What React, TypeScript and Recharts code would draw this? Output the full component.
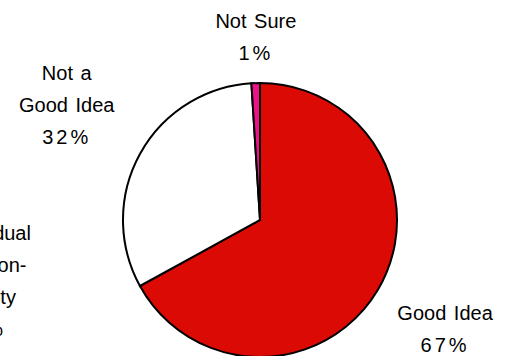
import React from "react";
import { PieChart, Pie, Cell } from "recharts";

const categories = ["Good Idea", "Individual\nRespon-\nsibility", "Not a\nGood Idea", "Not Sure"];
const shares = [67, 0, 32, 1];
const sliceColors = ["#DC0A05", "#DC0A05", "#FFFFFF", "#EE1289"];

// where each label block sits, relative to the slice's mid angle
const labelRadius = [215, 278, 225, 183];
const labelAngleShift = [0, -16.2, -2, -0.5];

const pieData = categories.map((name, i) => ({ name, value: shares[i] }));

const RAD = Math.PI / 180;
const LINE_H = 32;

function renderLabel(props: any) {
  const { cx, cy, midAngle, index } = props;
  const ang = (midAngle + labelAngleShift[index]) * RAD;
  const x = cx + labelRadius[index] * Math.cos(ang);
  const y = cy - labelRadius[index] * Math.sin(ang);
  const lines = [...categories[index].split("\n"), `${shares[index]}%`];
  const top = y - ((lines.length - 1) * LINE_H) / 2;
  return (
    <text
      key={`lbl-${index}`}
      x={x}
      y={top}
      textAnchor="middle"
      dominantBaseline="central"
      fill="#000"
      fontSize={20}
      fontFamily="'Liberation Sans', Arial, sans-serif"
    >
      {lines.map((ln, j) => (
        <tspan
          key={j}
          x={x}
          dy={j === 0 ? 0 : LINE_H}
          letterSpacing={j === lines.length - 1 ? 3 : 0}
          wordSpacing={2}
        >
          {ln}
        </tspan>
      ))}
    </text>
  );
}

export default function App() {
  return (
    <div style={{ position: "absolute", left: 0, top: 0, background: "#fff" }}>
      <PieChart width={519} height={356}>
        <Pie
          data={pieData}
          dataKey="value"
          nameKey="name"
          cx={255}
          cy={215}
          outerRadius={137}
          startAngle={90}
          endAngle={-270}
          stroke="#000"
          strokeWidth={2}
          label={renderLabel}
          labelLine={false}
          isAnimationActive={false}
        >
          {pieData.map((d, i) => (
            <Cell key={d.name} fill={sliceColors[i]} />
          ))}
        </Pie>
      </PieChart>
    </div>
  );
}
